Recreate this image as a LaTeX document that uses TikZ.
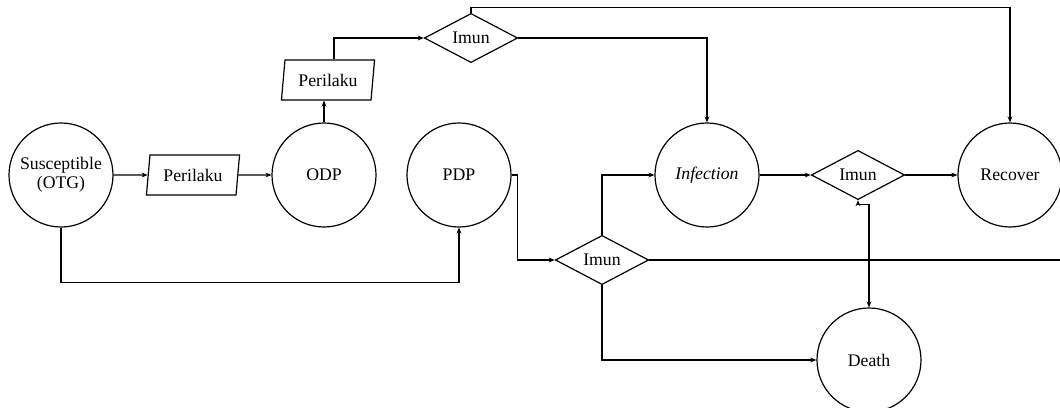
\documentclass[tikz,border=0pt]{standalone}
\usepackage{fontspec}
\setmainfont{Liberation Serif}
\usetikzlibrary{shapes.geometric,arrows.meta}
\begin{document}
\begin{tikzpicture}[x=0.75pt,y=-0.75pt,
  lbl/.style={font=\fontsize{13.3pt}{14.5pt}\selectfont},
  state/.style={lbl,circle,draw,line width=0.9pt,minimum size=78pt,inner sep=0pt,align=center},
  act/.style={lbl,trapezium,trapezium left angle=79,trapezium right angle=101,
    trapezium stretches=true,draw,line width=0.9pt,minimum width=70pt,minimum height=30pt,inner sep=0pt},
  gate/.style={lbl,diamond,draw,line width=0.9pt,minimum width=70pt,minimum height=29pt,inner sep=0pt},
  tip/.style={Stealth[length=4.5pt,width=3.6pt]},
  flow/.style={line width=0.9pt,-{Stealth[length=4.5pt,width=3.6pt]}},
  link/.style={line width=0.9pt}]
\useasboundingbox (0,0) rectangle (1060,407);

% compartments
\node[state] (sus)   at (61,175)  {Susceptible\\(OTG)};
\node[state] (odp)   at (324,175) {ODP};
\node[state] (pdp)   at (459,175) {PDP};
\node[state] (inf)   at (707,175) {\textit{Infection}};
\node[state] (rec)   at (1010,175) {Recover};
\node[state] (death) at (869,360) {Death};

% behaviour steps
\node[act] (per1) at (193,175) {Perilaku};
\node[act] (per2) at (328,80)  {Perilaku};

% immunity checks
\node[gate] (imA) at (471,38)  {Imun};
\node[gate] (imB) at (858,175) {Imun};
\node[gate] (imC) at (602,260) {Imun};

\coordinate (rim) at (1062,260);

% flows
\draw[flow] (sus) -- (per1);
\draw[flow] (per1) -- (odp);
\draw[flow] (odp.north) -- (odp.north |- per2.south);
\draw[flow] ([xshift=4.5pt]per2.north) |- (imA.west);
\draw[flow] (imA.north) -- ++(0,-5.5) -| (rec.north);
\draw[flow] (imA.east) -| (inf.north);
\draw[flow] (pdp.east) -- ++(6,0) |- (imC.west);
\draw[flow] (sus.south) -- ++(0,55) -| (pdp.south);
\draw[flow] (imC.north) |- (inf.west);
\draw[flow] (imC.south) |- (death.west);
\draw[link] (imC.east) -- (rim);
\draw[flow] (inf) -- (imB);
\draw[flow] (imB) -- (rec);
\draw[link,{Stealth[length=4.5pt,width=3.6pt]}-{Stealth[length=4.5pt,width=3.6pt]}]
  (imB.south) -- ++(0,4) -| (death.north);
\end{tikzpicture}
\end{document}
